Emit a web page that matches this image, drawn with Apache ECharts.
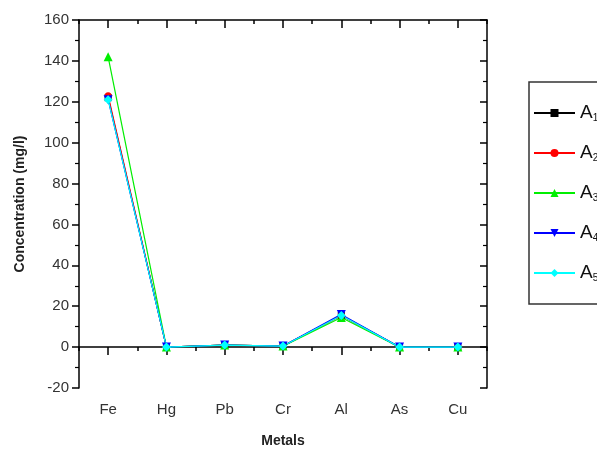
<!DOCTYPE html>
<html><head><meta charset="utf-8">
<script src="https://cdn.jsdelivr.net/npm/echarts@6/dist/echarts.min.js"></script>
<style>html,body{margin:0;padding:0;background:#fff}#c{width:597px;height:453px}</style>
</head><body><div id="c"></div>
<script>
const categories = ['Fe','Hg','Pb','Cr','Al','As','Cu'];
const A1 = [122, 0, 1, 0.5, 15.5, 0, 0];
const A2 = [123, 0, 1, 0.5, 15.5, 0, 0];
const A3 = [142, 0, 1, 0.5, 14.5, 0, 0];
const A4 = [121, 0, 1, 0.5, 16, 0, 0];
const A5 = [121, 0, 1, 0.5, 15.5, 0, 0];
const seriesNames = ['A1','A2','A3','A4','A5'];
const yTicks = {min: -20, max: 160, interval: 20};

const colors = ['#000000','#ff0000','#00ee00','#0000ff','#00ffff'];
const symbols = ['rect','circle','triangle','path://M0,0 L10,0 L5,10 Z','diamond'];
const sizes = [7,7,9,9,9];
const dataSets = [A1,A2,A3,A4,A5];

const font = 'Liberation Sans, Arial, sans-serif';
const chart = echarts.init(document.getElementById('c'), null, {renderer:'canvas'});
const axisLine = {show:true, lineStyle:{color:'#000', width:1.5}};
chart.setOption({
  backgroundColor:'#fff',
  animation:false,
  grid:{left:79, right:110, top:20, bottom:64, containLabel:false},
  legend:{
    orient:'vertical', left:529, top:82,
    data: seriesNames,
    borderColor:'#333', borderWidth:1.5,
    padding:[21, 30, 21, 4],
    itemWidth:41, itemHeight:10, itemGap:20,
    formatter: n => 'A{s|' + n.slice(1) + '}',
    textStyle:{fontFamily:font, fontSize:19, color:'#111', lineHeight:20,
      rich:{s:{fontSize:10, padding:[10,0,0,0], color:'#111'}}}
  },
  xAxis:[
    {type:'category', data:categories, position:'bottom', boundaryGap:true,
     axisLine:axisLine, axisTick:{show:true, alignWithLabel:true, length:8, lineStyle:{color:'#000',width:1.5}},
     axisLabel:{fontFamily:font, fontSize:15, color:'#333', margin:14},
     name:'Metals', nameLocation:'middle', nameGap:46,
     nameTextStyle:{fontFamily:font, fontSize:14, fontWeight:'bold', color:'#222'}},
    {type:'category', data:categories, position:'bottom', boundaryGap:true,
     axisLine:{show:false}, axisTick:{show:true, alignWithLabel:false, length:4, lineStyle:{color:'#000',width:1.5}},
     axisLabel:{show:false}},
    {type:'category', data:categories, position:'top', boundaryGap:true,
     axisLine:axisLine, axisTick:{show:true, inside:true, alignWithLabel:true, length:8, lineStyle:{color:'#000',width:1.5}},
     axisLabel:{show:false}},
    {type:'category', data:categories, position:'top', boundaryGap:true,
     axisLine:{show:false}, axisTick:{show:true, inside:true, alignWithLabel:false, length:4, lineStyle:{color:'#000',width:1.5}},
     axisLabel:{show:false}}
  ],
  yAxis:[
    {type:'value', min:yTicks.min, max:yTicks.max, interval:yTicks.interval, position:'left',
     axisLine:axisLine, axisTick:{show:true, length:7, lineStyle:{color:'#000',width:1.5}},
     minorTick:{show:true, splitNumber:2, length:4, lineStyle:{color:'#000',width:1.2}},
     splitLine:{show:false},
     axisLabel:{fontFamily:font, fontSize:15, color:'#333', margin:10},
     name:'Concentration (mg/l)', nameLocation:'middle', nameGap:52, nameRotate:90,
     nameTextStyle:{fontFamily:font, fontSize:14, fontWeight:'bold', color:'#222'}},
    {type:'value', min:yTicks.min, max:yTicks.max, interval:yTicks.interval, position:'right',
     axisLine:axisLine, axisTick:{show:true, inside:true, length:7, lineStyle:{color:'#000',width:1.5}},
     minorTick:{show:true, splitNumber:2, length:4, lineStyle:{color:'#000',width:1.2}},
     splitLine:{show:false}, axisLabel:{show:false}}
  ],
  series: seriesNames.map((n,i)=>({
    name:n, type:'line', xAxisIndex:0, yAxisIndex:0,
    data:dataSets[i], symbol:symbols[i], symbolSize:sizes[i],
    itemStyle:{color:colors[i]}, lineStyle:{color:colors[i], width:1.2}
  }))
});
</script></body></html>
